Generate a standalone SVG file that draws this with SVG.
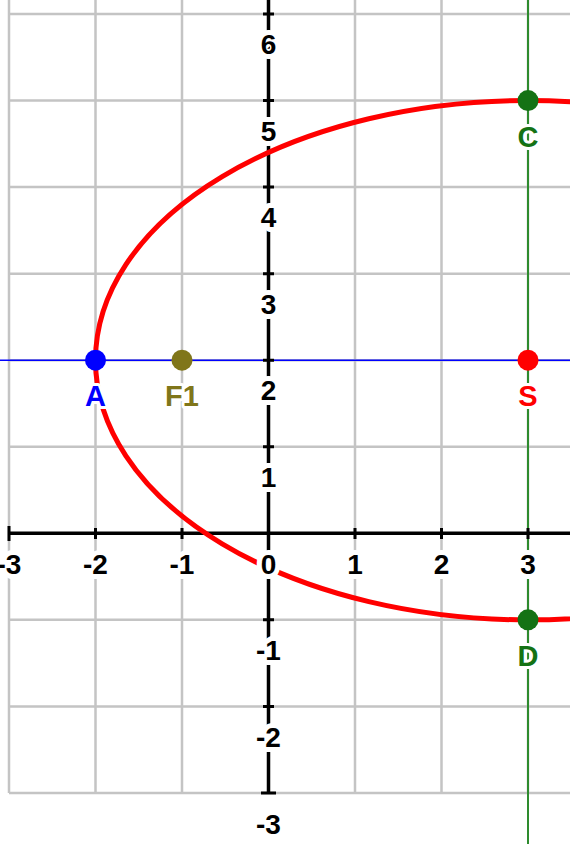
<svg xmlns="http://www.w3.org/2000/svg" width="570" height="844" viewBox="0 0 570 844">
<style>
.grid{stroke:#c4c4c4;stroke-width:2.5;fill:none}
.axis{stroke:#000;stroke-width:3.5;fill:none}
.tick{stroke:#000;stroke-width:3;fill:none}
.al{font-family:"Liberation Sans",Arial,sans-serif;font-weight:bold;font-size:28px;text-anchor:middle;fill:#000;stroke:#fff;stroke-width:10;stroke-linejoin:round;paint-order:stroke}
.pl{font-family:"Liberation Sans",Arial,sans-serif;font-weight:bold;font-size:29px;text-anchor:middle;stroke:#fff;stroke-width:6;stroke-linejoin:round;paint-order:stroke}
</style>
<rect width="570" height="844" fill="#fff"/>
<g id="grid" class="grid">
<path d="M9,0V793 M95.5,0V793 M182,0V793 M268.5,0V793 M355,0V793 M441.5,0V793 M528,0V793"/>
<path d="M9,14H570 M9,100.55H570 M9,187.1H570 M9,273.65H570 M9,360.2H570 M9,446.75H570 M9,619.85H570 M9,706.4H570 M9,793H570"/>
</g>
<g id="connectors">
<line x1="0" y1="360.2" x2="570" y2="360.2" stroke="#0000ff" stroke-width="1.5"/>
<line x1="528" y1="0" x2="528" y2="844" stroke="#2e8b2e" stroke-width="2"/>
<g id="axes">
<path class="axis" d="M9,533.3H570 M268.5,0V793"/>
<path class="tick" d="M9,526V541 M95.5,528V539 M182,528V539 M355,528V539 M441.5,528V539 M528,528V539"/>
<path class="tick" d="M261,793H276 M263,14H274 M263,100.55H274 M263,187.1H274 M263,273.65H274 M263,360.2H274 M263,446.75H274 M263,619.85H274 M263,706.4H274"/>
</g>
<ellipse id="curve" cx="528" cy="360.2" rx="432.5" ry="259.65" fill="none" stroke="#ff0000" stroke-width="5"/>
</g>
<g id="axis-labels" class="al">
<text x="268.5" y="54">6</text>
<text x="268.5" y="140.5">5</text>
<text x="268.5" y="227">4</text>
<text x="268.5" y="313.5">3</text>
<text x="268.5" y="400">2</text>
<text x="268.5" y="486.5">1</text>
<text x="268.5" y="660">-1</text>
<text x="268.5" y="746.5">-2</text>
<text x="268.5" y="834">-3</text>
<text x="9" y="574">-3</text>
<text x="95.5" y="574">-2</text>
<text x="182" y="574">-1</text>
<text x="268.5" y="574">0</text>
<text x="355" y="574">1</text>
<text x="441.5" y="574">2</text>
<text x="528" y="574">3</text>
</g>
<g id="A"><circle cx="95.5" cy="360.2" r="10.5" fill="#0000ff"/><text class="pl" x="95.5" y="406" fill="#0000ff">A</text></g>
<g id="F1"><circle cx="182" cy="360.2" r="10.5" fill="#80761a"/><text class="pl" x="182" y="406" fill="#80761a">F1</text></g>
<g id="S"><circle cx="528" cy="360.2" r="10.5" fill="#ff0000"/><text class="pl" x="528" y="406" fill="#ff0000">S</text></g>
<g id="C"><circle cx="528" cy="100.55" r="10.5" fill="#147214"/><text class="pl" x="528" y="147" fill="#147214">C</text></g>
<g id="D"><circle cx="528" cy="619.85" r="10.5" fill="#147214"/><text class="pl" x="528" y="666" fill="#147214">D</text></g>
</svg>
